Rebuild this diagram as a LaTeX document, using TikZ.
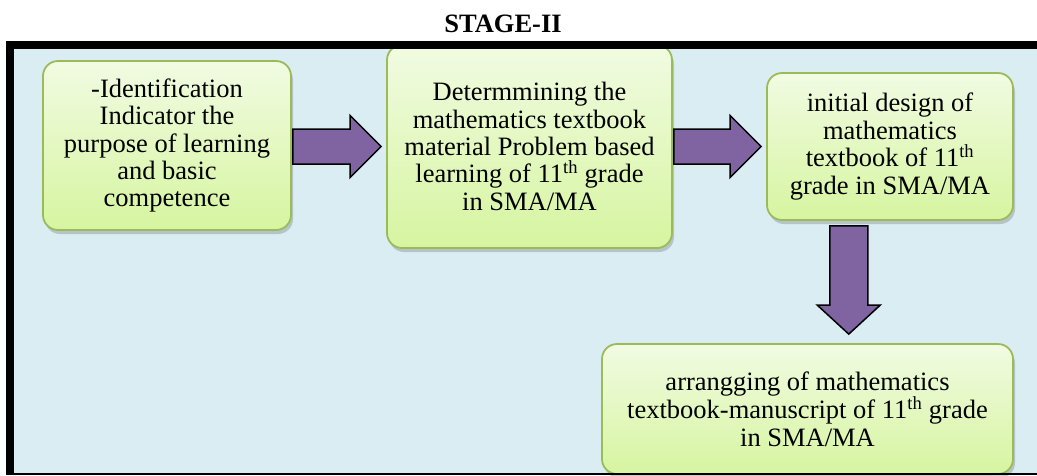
\documentclass[tikz,border=0pt]{standalone}
\usepackage{fontspec}
\setmainfont{Liberation Serif}
\usetikzlibrary{shadows,calc}
\definecolor{bgblue}{RGB}{218,237,243}
\definecolor{boxborder}{RGB}{155,187,89}
\definecolor{boxtop}{RGB}{241,251,226}
\definecolor{boxbot}{RGB}{214,245,160}
\definecolor{arrowfill}{RGB}{128,100,162}
\tikzset{
  box/.style={rounded corners=15pt, draw=boxborder, line width=1.8pt,
    top color=boxtop, bottom color=boxbot, align=center, inner sep=0pt,
    font=\fontsize{26.5}{27.4}\selectfont,
    drop shadow={shadow xshift=2pt, shadow yshift=-4pt, opacity=0.3, fill=black!60}},
  barrow/.style={fill=arrowfill, draw=black, line width=1.5pt, line join=miter},
  title/.style={font=\fontsize{26.5}{27.4}\selectfont\bfseries, inner sep=0pt, anchor=base}
}
\newcommand\harrow[2]{%
  \draw[barrow] let \p1=(#1), \p2=(#2) in
    (\x1,{\y1+17.5pt}) -- ({\x2-31pt},{\y1+17.5pt}) -- ({\x2-31pt},{\y1+31pt})
    -- (\x2,\y1) -- ({\x2-31pt},{\y1-31pt}) -- ({\x2-31pt},{\y1-17.5pt})
    -- (\x1,{\y1-17.5pt}) -- cycle;}
\newcommand\varrow[2]{%
  \draw[barrow] let \p1=(#1), \p2=(#2) in
    ({\x1-19pt},\y1) -- ({\x1-19pt},{\y2+29pt}) -- ({\x1-31.5pt},{\y2+29pt})
    -- (\x1,\y2) -- ({\x1+31.5pt},{\y2+29pt}) -- ({\x1+19pt},{\y2+29pt})
    -- ({\x1+19pt},\y1) -- cycle;}
\begin{document}
\begin{tikzpicture}[x=1pt,y=-1pt]
\useasboundingbox (0,0) rectangle (1037,475);
\begin{scope}
\clip (0,0) rectangle (1037,475);
% background
\fill[bgblue] (14,49) rectangle (1037,473);
% title
\node[title] (title) at (503,32) {STAGE-II};
% boxes
\node[box, minimum width=248pt, minimum height=169pt] (b1) at (167,145.5)
  {-Identification\\Indicator the\\purpose of learning\\and basic\\competence};
\node[box, minimum width=285pt, minimum height=203pt] (b2) at (529.5,146.5)
  {Determmining the\\mathematics textbook\\material Problem based\\learning of 11\textsuperscript{th} grade\\in SMA/MA};
\node[box, minimum width=246pt, minimum height=147pt] (b3) at (890,146.5)
  {initial design of\\mathematics\\textbook of 11\textsuperscript{th}\\grade in SMA/MA};
\node[box, minimum width=411pt, minimum height=130pt] (b4) at (807.5,409)
  {arrangging of mathematics\\textbook-manuscript of 11\textsuperscript{th} grade\\in SMA/MA};
% arrow anchor points
\coordinate (a1s) at ($(b1.east)+(1,1)$);
\coordinate (a1e) at ($(b2.west)+(-5,0)$);
\coordinate (a2s) at ($(b2.east)+(1,0)$);
\coordinate (a2e) at ($(b3.west)+(-5,0)$);
\coordinate (m) at ($(b3.south)!0.5!(b4.north)$);
\coordinate (a3s) at ($(m|-b3.south)+(0,5)$);
\coordinate (a3e) at ($(m|-b4.north)+(0,-9)$);
\harrow{a1s}{a1e}
\harrow{a2s}{a2e}
\varrow{a3s}{a3e}
% frame
\fill[black] (6,41) rectangle (1037,49);
\fill[black] (6,41) rectangle (14,475);
\fill[black] (6,473) rectangle (1037,475);
\end{scope}
\end{tikzpicture}
\end{document}
